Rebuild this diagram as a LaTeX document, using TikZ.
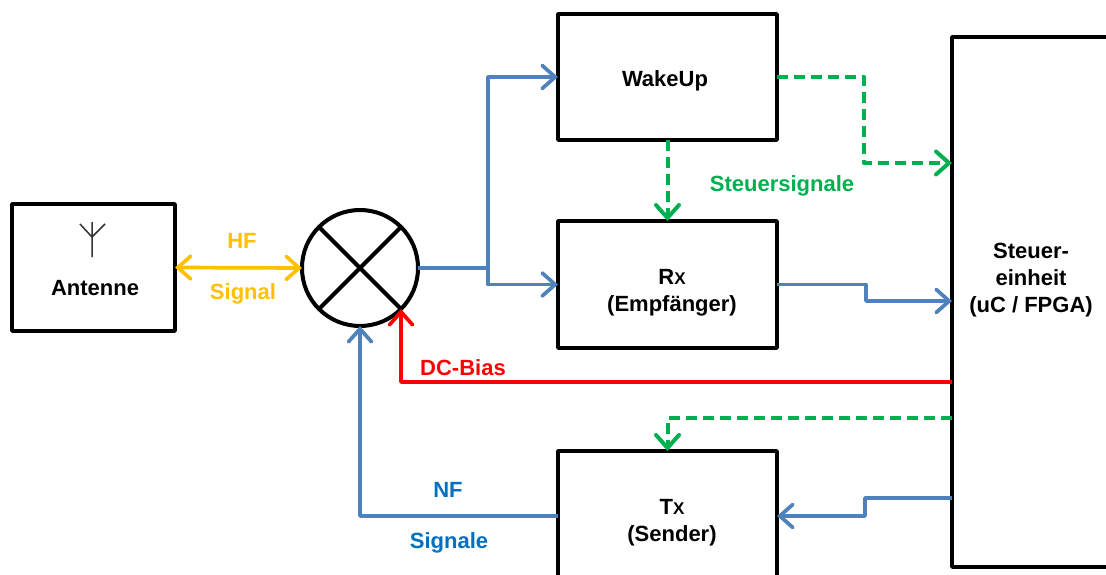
\documentclass[tikz,border=0pt]{standalone}
\usepackage{fontspec}
\setmainfont{Liberation Sans}
\usetikzlibrary{arrows.meta}
\begin{document}
\begin{tikzpicture}[x=1pt,y=-1pt]
\tikzset{bloc/.style = {draw,
                        shape        = rectangle,
                        line width   = 3.8pt,
                        line join    = round,
                        outer sep    = 0pt,
                        inner sep    = 0pt},
         texte/.style = {align       = center,
                         inner sep   = 0pt,
                         font        = \fontsize{22}{27}\selectfont\bfseries},
         pointe/.tip = {Straight Barb[length=13pt,width=23pt,line cap=round]},
         liaison/.style = {line width = 3.7pt,
                           line join  = round,
                           -pointe},
         pointille/.style = {liaison,
                             col4,
                             line width   = 4pt,
                             dash pattern = on 11pt off 6pt}}
\definecolor{col1}{HTML}{4F81BD}
\definecolor{col2}{HTML}{FFC000}
\definecolor{col3}{HTML}{FF0000}
\definecolor{col4}{HTML}{00B050}
\definecolor{col5}{HTML}{0070C0}
\useasboundingbox (0,0) rectangle (1106,575);
\clip (0,0) rectangle (1106,575);
\node[bloc,minimum width=163pt,minimum height=127pt] (antenne) at (93.5,267.5){};
\node[bloc,minimum width=219pt,minimum height=126pt] (wakeup) at (667.5,77){};
\node[bloc,minimum width=219pt,minimum height=127pt] (rx) at (667.5,284.5){};
\node[bloc,minimum width=219pt,minimum height=138pt] (tx) at (667.5,520){};
\node[bloc,minimum width=158pt,minimum height=530pt] (steuer) at (1031,302){};
\node[draw,circle,line width=4pt,outer sep=0pt,inner sep=0pt,minimum size=116pt] (mixer) at (360,268){};
\draw[line width=4pt] (mixer.45) -- (mixer.225)
      (mixer.135) -- (mixer.-45);
\node[texte] (tantenne) at (95,288){Antenne};
\node[texte] (twakeup) at (665,81){WakeUp};
\node[texte] (trx) at (672,293){R{\fontsize{17}{27}\selectfont X}\\(Empfänger)};
\node[texte] (ttx) at (672,523){T{\fontsize{17}{27}\selectfont X}\\(Sender)};
\node[texte] (tsteuer) at (1031,280){Steuer-\\einheit\\(uC / FPGA)};
\node[texte,col2] (thf) at (242,241){HF};
\node[texte,col2] (tsignal) at (243,294){Signal};
\node[texte,col4] (tsteuersig) at (782,186){Steuersignale};
\node[texte,col3] (tdc) at (463,368){DC-Bias};
\node[texte,col5] (tnf) at (448,490){NF};
\node[texte,col5] (tsignale) at (449,543){Signale};
\coordinate (A0) at  (92,222);
\coordinate (A1) at  (92,257);
\coordinate (A2) at  (92,237);
\coordinate (A3) at  (80,224);
\coordinate (A4) at  (105,224);
\coordinate (B0) at  (488,268);
\coordinate (B1) at  (488,77);
\coordinate (B2) at  (488,284.5);
\coordinate (C0) at  (864,77);
\coordinate (C1) at  (864,163);
\coordinate (C2) at  (952,163);
\coordinate (D0) at  (866,284.5);
\coordinate (D1) at  (866,301);
\coordinate (D2) at  (952,301);
\coordinate (E0) at  (952,382);
\coordinate (E1) at  (401,382);
\coordinate (F0) at  (952,418);
\coordinate (F1) at  (667.5,418);
\coordinate (G0) at  (952,498);
\coordinate (G1) at  (865,498);
\coordinate (G2) at  (865,516);
\coordinate (G3) at  (360,516);
\draw[line width=1.5pt,black!80] (A0) -- (A1)
      (A3) -- (A2) -- (A4);
\draw[liaison,col2,pointe-pointe] (antenne.east) -- (mixer.west);
\draw[line width=3.7pt,col1] (mixer.east) -- (B0);
\draw[liaison,col1] (B0) -- (B1) -- (wakeup.west);
\draw[liaison,col1] (B0) -- (B2) -- (rx.west);
\draw[pointille] (wakeup.east) -- (C0) -- (C1) -- (C2);
\draw[pointille] (wakeup.south) -- (rx.north);
\draw[liaison,col1] (rx.east) -- (D0) -- (D1) -- (D2);
\draw[liaison,col3] (E0) -- (E1) -- (mixer.-45);
\draw[pointille] (F0) -- (F1) -- (tx.north);
\draw[liaison,col1] (G0) -- (G1) -- (G2) -- ([yshift=4pt]tx.east);
\draw[liaison,col1] ([yshift=4pt]tx.west) -- (G3) -- (mixer.south);
\end{tikzpicture}
\end{document}
